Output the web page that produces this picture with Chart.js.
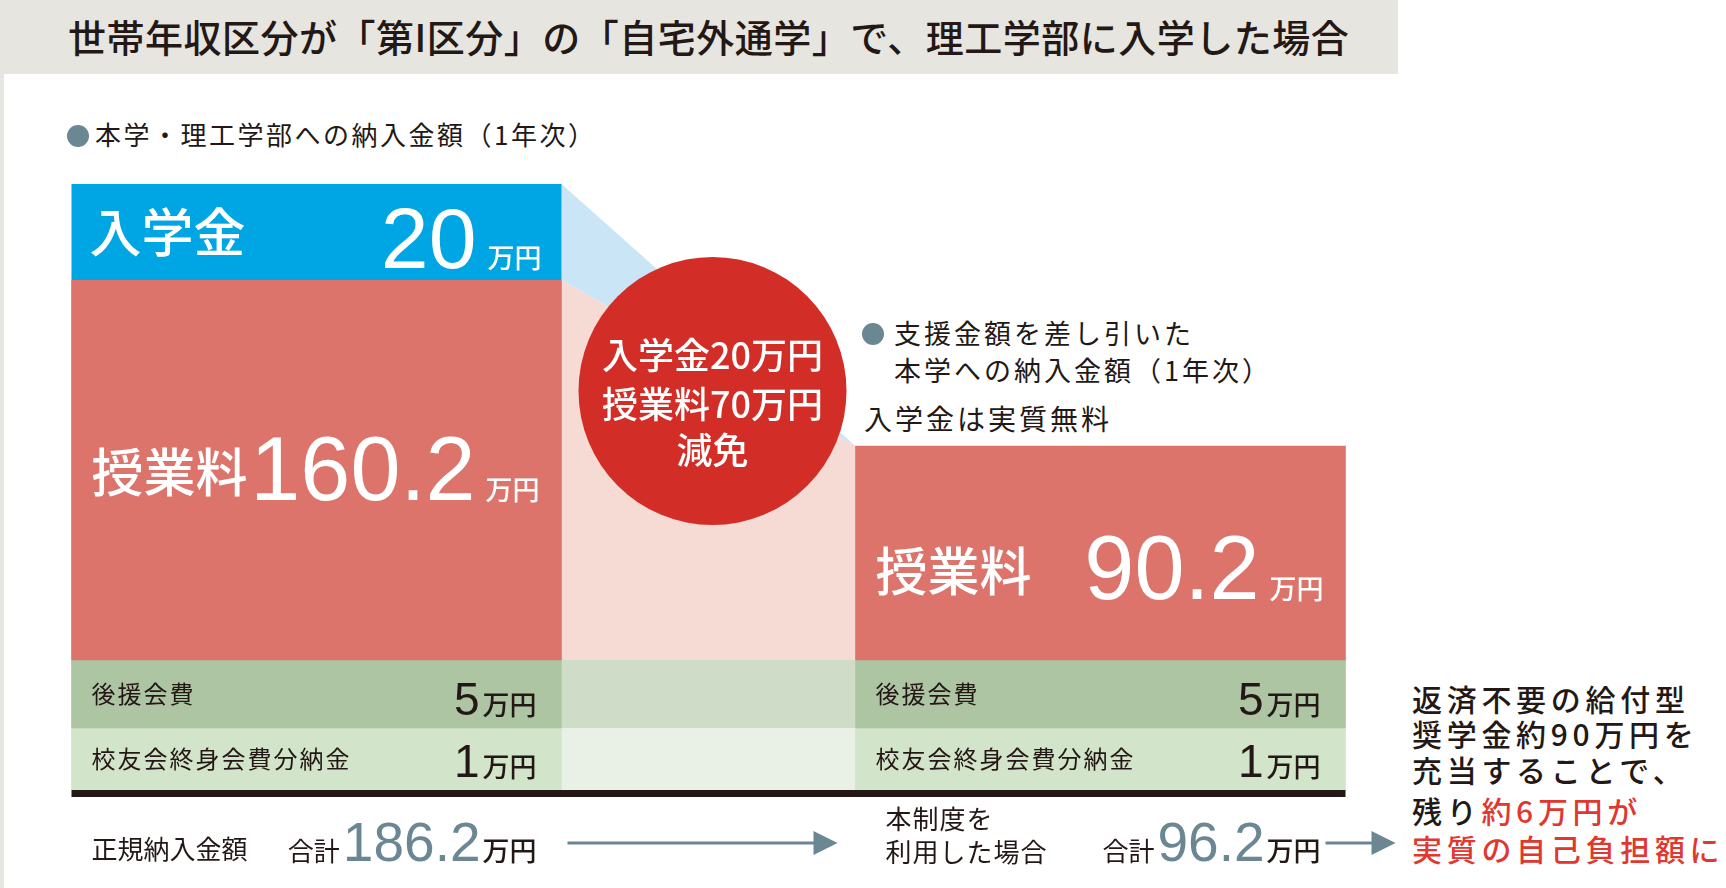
<!DOCTYPE html>
<html lang="ja">
<head>
<meta charset="utf-8">
<title>世帯年収区分が「第I区分」の「自宅外通学」で、理工学部に入学した場合</title>
<script src="https://cdn.jsdelivr.net/npm/chart.js@4.4.1/dist/chart.umd.min.js"></script>
<style>
  html, body { margin: 0; padding: 0; background: #fff; }
  body {
    position: relative;
    width: 1726px;
    height: 888px;
    overflow: hidden;
    font-family: "Noto Sans CJK JP", sans-serif;
    color: #231815;
  }
  .band { position: absolute; left: 0; top: 0; width: 1398px; height: 74px; background: #e6e5df; }
  .edge { position: absolute; left: 0; top: 74px; width: 4px; height: 814px; background: #e6e5df; }
  .t { position: absolute; margin: 0; line-height: 1; white-space: nowrap; }
  h1.t { left: 68px; top: 17px; font-size: 38px; font-weight: 500; letter-spacing: 0.5px; }
  .sub { font-size: 26px; letter-spacing: 2.5px; }
  .sub2 { font-size: 27px; letter-spacing: 3px; }
  .dot { position: absolute; width: 22px; height: 22px; border-radius: 50%; background: #6b8793; }
  .note { font-size: 30px; font-weight: 500; letter-spacing: 4.7px; left: 1412px; }
  .red { color: #e0372f; }
  #chart { position: absolute; left: 0; top: 0; }
</style>
</head>
<body>
<div class="band"></div>
<div class="edge"></div>
<h1 class="t">世帯年収区分が「第I区分」の「自宅外通学」で、理工学部に入学した場合</h1>

<span class="dot" style="left:67px; top:125px"></span>
<div class="t sub" style="left:95px; top:121px">本学・理工学部への納入金額（1年次）</div>

<span class="dot" style="left:862px; top:323px"></span>
<div class="t sub2" style="left:894px; top:319px">支援金額を差し引いた</div>
<div class="t sub2" style="left:894px; top:356px">本学への納入金額（1年次）</div>
<div class="t sub2" style="left:864px; top:404px; font-size:28px">入学金は実質無料</div>

<div class="t note" style="top:683px">返済不要の給付型</div>
<div class="t note" style="top:718px">奨学金約90万円を</div>
<div class="t note" style="top:754px">充当することで、</div>
<div class="t note" style="top:795px">残り<span class="red">約6万円が</span></div>
<div class="t note red" style="top:833px">実質の自己負担額に</div>

<canvas id="chart" width="1726" height="888"></canvas>

<script>
// 列: 通常の納入額 / 本制度を利用した場合
const columns = ['正規納入金額', '本制度を利用した場合']
const itemNames = ['入学金', '授業料', '後援会費', '校友会終身会費分納金']

// 金額 (万円)
const entranceFee = [20, 0]
const tuition = [160.2, 90.2]
const boosterFee = [5, 5]
const alumniFee = [1, 1]

const FONT_JP = '"Noto Sans CJK JP", sans-serif'
const FONT_NUM = '"Liberation Sans", Arial, sans-serif'
const FONT_NARROW = '"Liberation Sans Narrow", "Liberation Sans", sans-serif'
const INK = '#231815'
const SLATE = '#6b8793'

const fmt = (v) => String(Number(v.toFixed(1)))
const totals = columns.map((_, i) => entranceFee[i] + tuition[i] + boosterFee[i] + alumniFee[i])

function barRect(chart, dsIndex, i) {
  const el = chart.getDatasetMeta(dsIndex).data[i]
  const p = el.getProps(['x', 'y', 'base', 'width'], true)
  return {
    left: p.x - p.width / 2,
    right: p.x + p.width / 2,
    top: Math.min(p.y, p.base),
    bottom: Math.max(p.y, p.base),
  }
}

function text(ctx, str, x, y, font, color, align = 'left', spacing = 0) {
  ctx.save()
  ctx.font = font
  ctx.fillStyle = color
  ctx.textAlign = align
  ctx.textBaseline = 'alphabetic'
  if ('letterSpacing' in ctx) ctx.letterSpacing = spacing + 'px'
  ctx.fillText(str, x, y)
  const w = ctx.measureText(str).width
  ctx.restore()
  return w
}

function poly(ctx, pts, color) {
  ctx.beginPath()
  pts.forEach(([x, y], i) => (i ? ctx.lineTo(x, y) : ctx.moveTo(x, y)))
  ctx.closePath()
  ctx.fillStyle = color
  ctx.fill()
}

function arrow(ctx, x1, x2, y) {
  ctx.save()
  ctx.strokeStyle = SLATE
  ctx.fillStyle = SLATE
  ctx.lineWidth = 3
  ctx.beginPath()
  ctx.moveTo(x1, y)
  ctx.lineTo(x2 - 20, y)
  ctx.stroke()
  poly(ctx, [[x2, y], [x2 - 24, y - 12], [x2 - 24, y + 12]], SLATE)
  ctx.restore()
}

// 金額 + 万円 (右揃え)
function amount(ctx, value, right, baseline, numFont, numColor, unitSize, gap) {
  const wUnit = text(ctx, '万円', right, baseline, `500 ${unitSize}px ${FONT_JP}`, numColor === '#fff' ? '#fff' : INK, 'right')
  const wNum = text(ctx, value, right - wUnit - gap, baseline, numFont, numColor, 'right')
  return right - wUnit - gap - wNum
}

const infographic = {
  id: 'infographic',
  beforeDatasetsDraw(chart) {
    const ctx = chart.ctx
    const e0 = barRect(chart, 0, 0)
    const t0 = barRect(chart, 1, 0), t1 = barRect(chart, 1, 1)
    const b0 = barRect(chart, 2, 0), a0 = barRect(chart, 3, 0)
    const L = t0.right, R = t1.left
    ctx.save()
    poly(ctx, [[L, t0.top], [R, t1.top], [R, t1.bottom], [L, t0.bottom]], '#f6dbd5')
    poly(ctx, [[L, e0.top], [R, t1.top], [L, e0.bottom]], '#c9e5f6')
    ctx.fillStyle = '#cfdcc8'
    ctx.fillRect(L, b0.top, R - L, b0.bottom - b0.top)
    ctx.fillStyle = '#e9f1e6'
    ctx.fillRect(L, a0.top, R - L, a0.bottom - a0.top)
    ctx.restore()
  },
  afterDatasetsDraw(chart) {
    const ctx = chart.ctx
    const e0 = barRect(chart, 0, 0)
    const t = [barRect(chart, 1, 0), barRect(chart, 1, 1)]
    const b = [barRect(chart, 2, 0), barRect(chart, 2, 1)]
    const a = [barRect(chart, 3, 0), barRect(chart, 3, 1)]
    const L = t[0].right, R = t[1].left

    // 入学金
    text(ctx, itemNames[0], e0.left + 18, (e0.top + e0.bottom) / 2 + 20, `500 52px ${FONT_JP}`, '#fff')
    amount(ctx, fmt(entranceFee[0]), e0.right - 20, e0.bottom - 12, `86px ${FONT_NUM}`, '#fff', 27, 11)

    // 授業料 (右列は少し下寄せ)
    t.forEach((r, i) => {
      const mid = (r.top + r.bottom) / 2 + i * 16
      text(ctx, itemNames[1], r.left + 20, mid + 22, `500 52px ${FONT_JP}`, '#fff')
      amount(ctx, fmt(tuition[i]), r.right - 22, mid + 30, `90px ${FONT_NUM}`, '#fff', 27, 10)
    })

    // 後援会費・校友会
    ;[[b, boosterFee, itemNames[2]], [a, alumniFee, itemNames[3]]].forEach(([rects, vals, name]) => {
      rects.forEach((r, i) => {
        const mid = (r.top + r.bottom) / 2
        text(ctx, name, r.left + 20, mid + 9, `24px ${FONT_JP}`, INK, 'left', 2)
        amount(ctx, fmt(vals[i]), r.right - 25, r.bottom - 13, `46px ${FONT_NARROW}`, INK, 27, 3)
      })
    })

    // 下線
    ctx.fillStyle = INK
    ctx.fillRect(t[0].left, a[0].bottom, t[1].right - t[0].left, 7)

    // 減免の円
    const cx = (L + R) / 2 + 4
    const cy = e0.bottom + 111
    ctx.beginPath()
    ctx.arc(cx, cy, 134, 0, Math.PI * 2)
    ctx.fillStyle = '#d22e27'
    ctx.fill()
    const font = `500 36px ${FONT_JP}`
    text(ctx, `${itemNames[0]}${fmt(entranceFee[0] - entranceFee[1])}万円`, cx, cy - 22, font, '#fff', 'center')
    text(ctx, `${itemNames[1]}${fmt(tuition[0] - tuition[1])}万円`, cx, cy + 27, font, '#fff', 'center')
    text(ctx, '減免', cx, cy + 73, font, '#fff', 'center')

    // 合計
    const base = a[0].bottom + 71
    text(ctx, columns[0], t[0].left + 20, base - 2, `26px ${FONT_JP}`, INK)
    text(ctx, '本制度を', t[1].left + 30, base - 32, `26px ${FONT_JP}`, INK, 'left', 1)
    text(ctx, '利用した場合', t[1].left + 30, base + 1, `26px ${FONT_JP}`, INK, 'left', 1)
    t.forEach((r, i) => {
      const numLeft = amount(ctx, fmt(totals[i]), r.right - 25, base, `55px ${FONT_NUM}`, SLATE, 27, 2)
      text(ctx, '合計', numLeft - 3, base, `26px ${FONT_JP}`, INK, 'right')
    })

    arrow(ctx, L + 6, R - 18, base - 18)
    arrow(ctx, t[1].right - 20, t[1].right + 50, base - 18)
  },
}

const yAxis = (weight, stackWeight, values) => ({
  type: 'linear',
  display: false,
  stacked: true,
  stack: 'rows',
  weight,
  stackWeight,
  min: 0,
  max: Math.max(...values),
})

const barStyle = { barThickness: 490, borderWidth: 0, clip: false, stack: 'all' }

new Chart(document.getElementById('chart'), {
  type: 'bar',
  data: {
    labels: columns,
    datasets: [
      { label: itemNames[0], data: entranceFee, yAxisID: 'yEntry', backgroundColor: '#00a5e3', inflateAmount: 0, ...barStyle },
      { label: itemNames[1], data: tuition, yAxisID: 'yTuition', backgroundColor: '#dc746b', ...barStyle },
      { label: itemNames[2], data: boosterFee, yAxisID: 'yBooster', backgroundColor: '#adc5a3', ...barStyle },
      { label: itemNames[3], data: alumniFee, yAxisID: 'yAlumni', backgroundColor: '#d2e4c9', ...barStyle },
    ],
  },
  options: {
    responsive: false,
    animation: false,
    layout: { padding: { left: 316.5, right: 625.5, top: 184, bottom: 98 } },
    plugins: {
      legend: { display: false },
      tooltip: { enabled: false },
    },
    scales: {
      x: { type: 'category', display: false, offset: false, stacked: true },
      yEntry: yAxis(4, 96, entranceFee),
      yTuition: yAxis(3, 380, tuition),
      yBooster: yAxis(2, 68, boosterFee),
      yAlumni: yAxis(1, 62, alumniFee),
    },
  },
  plugins: [infographic],
})
</script>
</body>
</html>
